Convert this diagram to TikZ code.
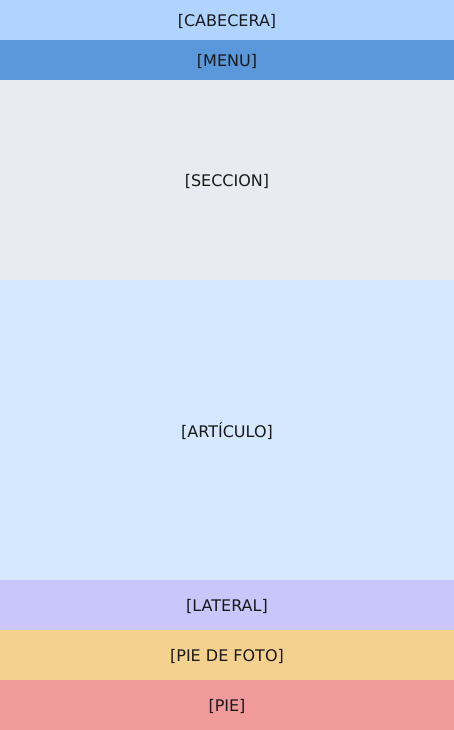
\documentclass[tikz,border=0pt]{standalone}
\usepackage{fontspec}
\setmainfont{DejaVu Sans}
\usetikzlibrary{positioning}
\definecolor{cabecera}{HTML}{B0D4FF}
\definecolor{menu}{HTML}{5B97DB}
\definecolor{seccion}{HTML}{E8ECF0}
\definecolor{articulo}{HTML}{D5E8FF}
\definecolor{lateral}{HTML}{C8C6FA}
\definecolor{piefoto}{HTML}{F5D190}
\definecolor{pie}{HTML}{F09A9C}
\tikzset{
    band/.style={minimum width=454pt, inner sep=0pt, outer sep=0pt, text depth=0pt, font=\fontsize{16}{19}\selectfont, text=black!90}
}

\begin{document}
\begin{tikzpicture}[x=1pt,y=1pt]
    \useasboundingbox (0,0) rectangle (454,-730);
    \node (cab) [band, fill=cabecera, minimum height=40pt, anchor=north west] at (0,0) {[CABECERA]};
    \node (men) [band, fill=menu, minimum height=40pt, below=0pt of cab] {[MENU]};
    \node (sec) [band, fill=seccion, minimum height=200pt, below=0pt of men] {[SECCION]};
    \node (art) [band, fill=articulo, minimum height=300pt, below=0pt of sec] {[ARTÍCULO]};
    \node (lat) [band, fill=lateral, minimum height=50pt, below=0pt of art] {[LATERAL]};
    \node (fot) [band, fill=piefoto, minimum height=50pt, below=0pt of lat] {[PIE DE FOTO]};
    \node (pie) [band, fill=pie, minimum height=50pt, below=0pt of fot] {[PIE]};
\end{tikzpicture}
\end{document}
